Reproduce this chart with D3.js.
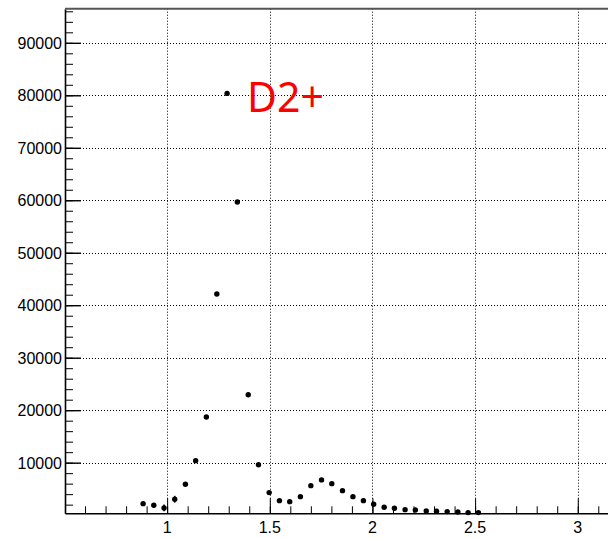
<!DOCTYPE html>
<html>
<head>
<meta charset="utf-8">
<script src="https://cdn.jsdelivr.net/npm/d3@7"></script>
<style>
  body { margin: 0; background: #fff; overflow: hidden; }
  svg { display: block; }
  text { font-family: "Liberation Sans", Arial, sans-serif; }
</style>
</head>
<body>
<div id="chart"></div>
<script>
// bin centres
var xVals = [0.883, 0.935, 0.985, 1.037, 1.089, 1.139, 1.191, 1.242, 1.292, 1.342,
             1.395, 1.445, 1.497, 1.547, 1.597, 1.649, 1.700, 1.752, 1.802, 1.854,
             1.905, 1.956, 2.006, 2.057, 2.107, 2.159, 2.209, 2.262, 2.312, 2.364,
             2.416, 2.466, 2.516];
// counts
var yVals = [2190, 1890, 1370, 3030, 5890, 10380, 18700, 42130, 80360, 59660,
             22950, 9600, 4290, 2760, 2570, 3520, 5620, 6710, 6000, 4670,
             3520, 2760, 2080, 1500, 1310, 1050, 990, 800, 740, 670,
             610, 480, 480];
// errors (only a few are visible)
var yErr  = [300, 300, 650, 650, 300, 0, 0, 0, 0, 0,
             0, 0, 0, 0, 0, 0, 0, 0, 0, 0,
             0, 0, 0, 0, 0, 0, 0, 0, 0, 0,
             0, 0, 0];
var xTicks = [1, 1.5, 2, 2.5, 3];
var yTicks = [10000, 20000, 30000, 40000, 50000, 60000, 70000, 80000, 90000];
var label = "D2+";

var w = 608, h = 538;
var fLeft = 65, fRight = 680, fTop = 8.7, fBottom = 513.3;

var svg = d3.select("#chart").append("svg")
    .attr("width", w)
    .attr("height", h);

var x = d3.scaleLinear().domain([0.5025, 3.498]).range([fLeft, fRight]);
var y = d3.scaleLinear().domain([350, 96500]).range([fBottom, fTop]);

// grid
svg.append("g").selectAll("line")
    .data(xTicks)
    .enter().append("line")
    .attr("x1", function(d) { return Math.round(x(d)) + 0.5; })
    .attr("x2", function(d) { return Math.round(x(d)) + 0.5; })
    .attr("y1", fTop).attr("y2", fBottom)
    .attr("stroke", "#000")
    .attr("stroke-width", 1)
    .attr("stroke-dasharray", "1,2");
svg.append("g").selectAll("line")
    .data(yTicks)
    .enter().append("line")
    .attr("x1", fLeft).attr("x2", fRight)
    .attr("y1", function(d) { return Math.round(y(d)) + 0.5; })
    .attr("y2", function(d) { return Math.round(y(d)) + 0.5; })
    .attr("stroke", "#000")
    .attr("stroke-width", 1)
    .attr("stroke-dasharray", "1,2");

// x axis: minor + major ticks pointing up
svg.append("g")
    .attr("transform", "translate(0," + fBottom + ")")
    .call(d3.axisBottom(x).tickValues(d3.range(6, 35).map(function(i) { return i / 10; }))
        .tickSizeInner(-7).tickSizeOuter(0).tickFormat(""))
    .call(function(g) { g.select(".domain").remove(); });
svg.append("g")
    .attr("transform", "translate(0," + fBottom + ")")
    .call(d3.axisBottom(x).tickValues(xTicks)
        .tickSizeInner(-15).tickSizeOuter(0).tickFormat(""))
    .call(function(g) { g.select(".domain").attr("stroke-width", 1.6); });

// y axis: minor + major ticks pointing right
svg.append("g")
    .attr("transform", "translate(" + fLeft + ",0)")
    .call(d3.axisLeft(y).tickValues(d3.range(2000, 96001, 2000))
        .tickSizeInner(-8).tickSizeOuter(0).tickFormat(""))
    .call(function(g) { g.select(".domain").remove(); });
svg.append("g")
    .attr("transform", "translate(" + fLeft + ",0)")
    .call(d3.axisLeft(y).tickValues(yTicks)
        .tickSizeInner(-16).tickSizeOuter(0).tickFormat(""))
    .call(function(g) {
        g.select(".domain").attr("stroke-width", 1.6);
        g.selectAll(".tick line").attr("stroke-width", 1.4);
    });

// top frame line
svg.append("line")
    .attr("x1", fLeft).attr("x2", fRight)
    .attr("y1", fTop).attr("y2", fTop)
    .attr("stroke", "#555")
    .attr("stroke-width", 2);

// tick labels
svg.append("g").selectAll("text")
    .data(xTicks)
    .enter().append("text")
    .attr("x", function(d) { return x(d); })
    .attr("y", 533)
    .attr("text-anchor", "middle")
    .attr("font-size", 16)
    .text(function(d) { return d; });
svg.append("g").selectAll("text")
    .data(yTicks)
    .enter().append("text")
    .attr("x", 62)
    .attr("y", function(d) { return y(d) + 6; })
    .attr("text-anchor", "end")
    .attr("font-size", 16)
    .text(function(d) { return d; });

// error bars
svg.append("g").selectAll("line")
    .data(d3.range(xVals.length).filter(function(i) { return yErr[i] > 0; }))
    .enter().append("line")
    .attr("x1", function(i) { return x(xVals[i]); })
    .attr("x2", function(i) { return x(xVals[i]); })
    .attr("y1", function(i) { return y(yVals[i] - yErr[i]); })
    .attr("y2", function(i) { return y(yVals[i] + yErr[i]); })
    .attr("stroke", "#000")
    .attr("stroke-width", 1.5);

// markers
svg.append("g").selectAll("circle")
    .data(d3.range(xVals.length))
    .enter().append("circle")
    .attr("cx", function(i) { return x(xVals[i]); })
    .attr("cy", function(i) { return y(yVals[i]); })
    .attr("r", 2.7)
    .attr("fill", "#000");

// label
svg.append("text")
    .attr("x", 247)
    .attr("y", 112)
    .attr("fill", "#ff0000")
    .attr("font-size", 41)
    .style("font-family", "'Noto Sans', 'Open Sans', sans-serif")
    .text(label);
</script>
</body>
</html>
